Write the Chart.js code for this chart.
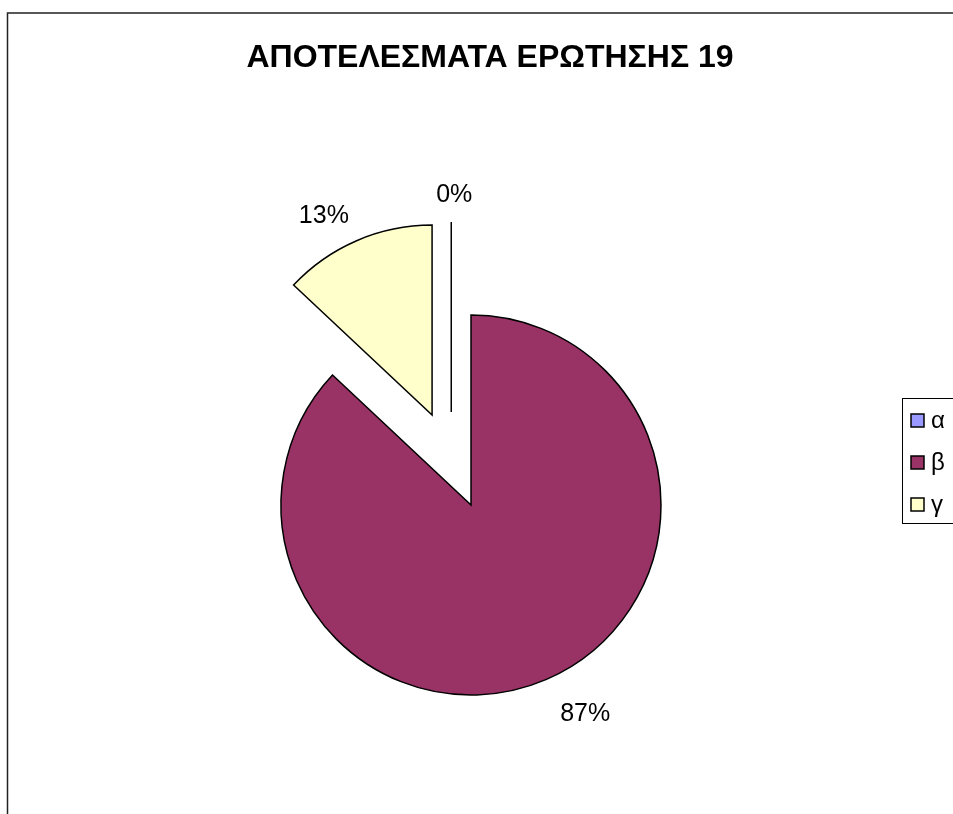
<!DOCTYPE html>
<html>
<head>
<meta charset="utf-8">
<script src="https://cdn.jsdelivr.net/npm/chart.js@4/dist/chart.umd.min.js"></script>
<style>
  html, body { margin: 0; padding: 0; background: #fff; }
  canvas { display: block; }
</style>
</head>
<body>
<canvas id="chart" width="953" height="814"></canvas>
<script>
// answers to question 19
const answers = ['α', 'β', 'γ'];
const shares = [0, 87, 13];
const sliceColors = ['#9999FF', '#993366', '#FFFFCC'];
const chartTitle = 'ΑΠΟΤΕΛΕΣΜΑΤΑ ΕΡΩΤΗΣΗΣ 19';

// exploded slices: distance in px and a small turn (deg) for the empty slice
const explodeDist = [95, 0, 98];
const explodeTurn = [-12, 0, 0];

const FONT = '"Liberation Sans", Arial, sans-serif';

function explodeVector(el, i) {
  const mid = (el.startAngle + el.endAngle) / 2 + explodeTurn[i] * Math.PI / 180;
  return { dx: Math.cos(mid) * explodeDist[i], dy: Math.sin(mid) * explodeDist[i] };
}

// draws the slices pulled out of the pie (Chart.js offset also grows the slice)
const explodedPie = {
  id: 'explodedPie',
  beforeDatasetDraw(chart, args) {
    const ctx = chart.ctx;
    const meta = args.meta;
    meta.data.forEach((el, i) => {
      const v = explodeVector(el, i);
      ctx.save();
      ctx.translate(v.dx, v.dy);
      if (el.circumference === 0) {
        // empty slice is just a radius line
        const a = el.startAngle;
        ctx.beginPath();
        ctx.moveTo(el.x, el.y);
        ctx.lineTo(el.x + Math.cos(a) * el.outerRadius, el.y + Math.sin(a) * el.outerRadius);
        ctx.lineWidth = el.options.borderWidth;
        ctx.strokeStyle = el.options.borderColor;
        ctx.stroke();
      } else {
        el.draw(ctx, chart.chartArea);
      }
      ctx.restore();
    });
    return false;
  }
};

// frame, title, percent labels and legend box
const decorations = {
  id: 'decorations',
  afterDraw(chart) {
    const ctx = chart.ctx;
    const meta = chart.getDatasetMeta(0);
    const total = shares.reduce((a, b) => a + b, 0);

    ctx.save();
    // chart border
    ctx.strokeStyle = '#222';
    ctx.lineWidth = 1.5;
    ctx.strokeRect(7.5, 13, 1000, 1000);

    // title
    ctx.fillStyle = '#000';
    ctx.font = 'bold 32px ' + FONT;
    ctx.textAlign = 'center';
    ctx.textBaseline = 'middle';
    ctx.fillText(chartTitle, 490, 58);

    // percentage labels outside each slice
    ctx.font = '25px ' + FONT;
    meta.data.forEach((el, i) => {
      const v = explodeVector(el, i);
      const mid = (el.startAngle + el.endAngle) / 2;
      const c = Math.cos(mid), s = Math.sin(mid);
      const x = el.x + v.dx + c * el.outerRadius + c * 90 + 3;
      const y = el.y + v.dy + s * el.outerRadius + s * 32 + 5;
      ctx.fillText(Math.round(shares[i] / total * 100) + '%', x, y);
    });

    // legend
    ctx.strokeStyle = '#000';
    ctx.lineWidth = 1;
    ctx.strokeRect(902.5, 398.5, 100, 125);
    ctx.textAlign = 'left';
    ctx.font = '24px ' + FONT;
    answers.forEach((lab, i) => {
      const cy = 420 + i * 42;
      ctx.fillStyle = sliceColors[i];
      ctx.fillRect(911, cy - 6, 13, 13);
      ctx.strokeStyle = '#000';
      ctx.lineWidth = 1.5;
      ctx.strokeRect(911, cy - 6, 13, 13);
      ctx.fillStyle = '#000';
      ctx.fillText(lab, 931, cy + 1);
    });
    ctx.restore();
  }
};

new Chart(document.getElementById('chart'), {
  type: 'pie',
  data: {
    labels: answers,
    datasets: [{
      data: shares,
      backgroundColor: sliceColors,
      borderColor: '#000',
      borderWidth: 1.5,
      borderJoinStyle: 'miter'
    }]
  },
  options: {
    responsive: false,
    animation: false,
    events: [],
    layout: {
      padding: { left: 280.25, right: 291.25, top: 314.25, bottom: 118.25 }
    },
    plugins: {
      legend: { display: false },
      title: { display: false },
      tooltip: { enabled: false }
    }
  },
  plugins: [explodedPie, decorations]
});
</script>
</body>
</html>
